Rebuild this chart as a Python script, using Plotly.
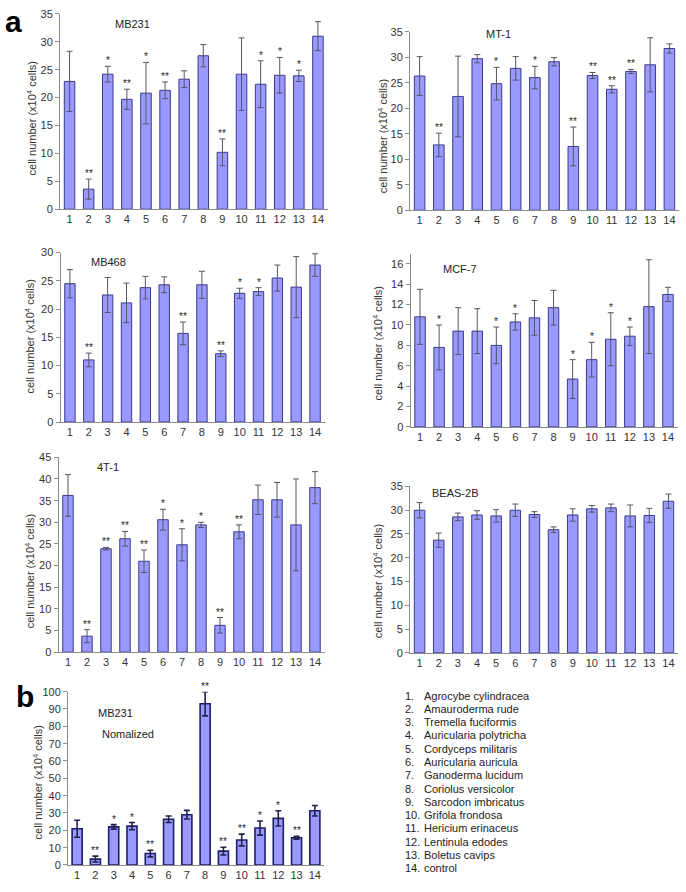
import plotly.graph_objects as go

W, H = 686, 892

categories = list(range(1, 15))
tick_labels = [str(c) for c in categories]

mb231_val = [22.9, 3.6, 24.2, 19.7, 20.8, 21.3, 23.3, 27.5, 10.2, 24.2, 22.4, 24.0, 23.9, 31.0]
mb231_err = [5.4, 1.8, 1.4, 1.8, 5.5, 1.5, 1.5, 2.0, 2.4, 6.5, 4.2, 3.2, 1.0, 2.6]
mb231_sig = ["", "**", "*", "**", "*", "**", "", "", "**", "", "*", "*", "*", ""]

mt1_val = [26.3, 12.8, 22.3, 29.7, 24.8, 27.8, 26.0, 29.1, 12.5, 26.4, 23.7, 27.2, 28.5, 31.7]
mt1_err = [3.8, 2.3, 7.9, 0.8, 3.2, 2.3, 2.2, 0.8, 3.8, 0.6, 0.7, 0.4, 5.3, 0.9]
mt1_sig = ["", "**", "", "", "*", "", "*", "", "**", "**", "**", "**", "", ""]

mb468_val = [24.5, 11.0, 22.5, 21.1, 23.8, 24.3, 15.7, 24.3, 12.1, 22.8, 23.1, 25.5, 23.9, 27.8]
mb468_err = [2.5, 1.2, 3.1, 3.5, 2.0, 1.4, 2.0, 2.4, 0.5, 0.9, 0.7, 2.3, 5.4, 2.0]
mb468_sig = ["", "**", "", "", "", "", "**", "", "**", "*", "*", "", "", ""]

mcf7_val = [10.8, 7.8, 9.4, 9.4, 8.0, 10.3, 10.7, 11.7, 4.7, 6.6, 8.6, 8.9, 11.8, 13.0]
mcf7_err = [2.7, 2.2, 2.3, 2.2, 1.8, 0.8, 1.7, 1.7, 1.9, 1.7, 2.6, 0.9, 4.6, 0.7]
mcf7_sig = ["", "*", "", "", "*", "*", "", "", "*", "*", "*", "*", "", ""]

t41_val = [36.2, 3.7, 23.9, 26.2, 21.0, 30.6, 24.8, 29.4, 6.2, 27.8, 35.2, 35.2, 29.4, 38.0]
t41_err = [4.8, 1.5, 0.3, 1.7, 2.6, 2.4, 3.7, 0.6, 1.8, 1.6, 3.4, 4.0, 10.6, 3.7]
t41_sig = ["", "**", "**", "**", "**", "*", "*", "*", "**", "**", "", "", "", ""]

beas_val = [30.0, 23.7, 28.6, 29.0, 28.8, 30.0, 29.1, 25.9, 29.0, 30.3, 30.5, 28.8, 28.9, 31.9]
beas_err = [1.6, 1.5, 0.8, 0.9, 1.3, 1.3, 0.6, 0.6, 1.3, 0.7, 0.8, 2.3, 1.5, 1.5]
beas_sig = [""] * 14

norm_val = [20.9, 3.4, 22.0, 22.4, 6.6, 26.4, 29.0, 93.0, 8.0, 14.4, 21.3, 26.9, 15.7, 31.3]
norm_err = [4.9, 1.7, 1.3, 2.1, 1.9, 1.9, 2.5, 7.0, 2.2, 3.4, 4.1, 4.4, 0.8, 3.0]
norm_sig = ["", "**", "*", "*", "**", "", "", "**", "**", "**", "*", "*", "**", ""]

species = ["Agrocybe cylindracea", "Amauroderma rude", "Tremella fuciformis",
           "Auricularia polytricha", "Cordyceps militaris", "Auricularia auricula",
           "Ganoderma lucidum", "Coriolus versicolor", "Sarcodon imbricatus",
           "Grifola frondosa", "Hericium erinaceus", "Lentinula edodes",
           "Boletus cavips", "control"]

y_title = "cell number (x10<sup>4</sup> cells)"

# layout geometry (pixels)
panels = [
    dict(val=mb231_val, err=mb231_err, sig=mb231_sig, title="MB231",
         x=(60, 327.5), y=(8, 206), rmax=35, dtick=5, tpos=(132, 18), ytx=32, yty=114),
    dict(val=mt1_val, err=mt1_err, sig=mt1_sig, title="MT-1",
         x=(410, 679), y=(26, 207), rmax=35, dtick=5, tpos=(498, 28), ytx=383, yty=132),
    dict(val=mb468_val, err=mb468_err, sig=mb468_sig, title="MB468",
         x=(60.5, 324.5), y=(250, 421.7), rmax=30, dtick=5, tpos=(108, 259), ytx=30, yty=335),
    dict(val=mcf7_val, err=mcf7_err, sig=mcf7_sig, title="MCF-7",
         x=(410.5, 677.5), y=(251, 426.7), rmax=17, dtick=2, tpos=(460, 267), ytx=378, yty=342),
    dict(val=t41_val, err=t41_err, sig=t41_sig, title="4T-1",
         x=(58.5, 324.5), y=(457.5, 655), rmax=45, dtick=5, tpos=(108, 467), ytx=30, yty=573),
    dict(val=beas_val, err=beas_err, sig=beas_sig, title="BEAS-2B",
         x=(410, 678), y=(487, 655.7), rmax=35, dtick=5, tpos=(455, 494), ytx=378, yty=583),
    dict(val=norm_val, err=norm_err, sig=norm_sig, title="MB231",
         x=(68, 324), y=(695, 870.7), rmax=100, dtick=10, tpos=(116, 717), ytx=38, yty=787),
]

FONT = "Liberation Sans, Arial, sans-serif"
fig = go.Figure()
layout = dict(width=W, height=H, margin=dict(l=0, r=0, t=0, b=0),
              paper_bgcolor="white", plot_bgcolor="white", showlegend=False,
              font=dict(family=FONT, size=11, color="#333333"), bargap=0.45)
annotations = []


def px_x(v):
    return v / W


def px_y(v):
    return 1 - v / H


for i, p in enumerate(panels, start=1):
    xa = "x" if i == 1 else f"x{i}"
    ya = "y" if i == 1 else f"y{i}"
    is_b = (i == 7)
    fig.add_trace(go.Bar(
        x=categories, y=p["val"], xaxis=xa, yaxis=ya, width=0.55,
        marker=dict(color="#9999ff", line=dict(color="#1f1f66" if is_b else "#3a3a8c",
                                                width=1.6 if is_b else 1)),
        error_y=dict(type="data", array=p["err"], visible=True,
                     color="#22224a" if is_b else "#555566",
                     thickness=1.6 if is_b else 1, width=3),
        hoverinfo="skip"))
    x0, x1 = p["x"]
    yt, yb = p["y"]
    layout["xaxis" if i == 1 else f"xaxis{i}"] = dict(
        domain=[x0 / W, x1 / W], anchor=ya, range=[0.5, 14.5],
        tickvals=categories, ticktext=tick_labels, showline=True,
        linecolor="#8c8c8c", linewidth=1, ticks="", showgrid=False,
        zeroline=False, fixedrange=True, tickfont=dict(size=11, color="#333333"))
    layout["yaxis" if i == 1 else f"yaxis{i}"] = dict(
        domain=[1 - yb / H, 1 - yt / H], anchor=xa, range=[0, p["rmax"]],
        dtick=p["dtick"], tick0=0, showline=True, linecolor="#8c8c8c", linewidth=1,
        ticks="outside", ticklen=4, tickcolor="#8c8c8c", showgrid=False,
        zeroline=False, fixedrange=True, tickfont=dict(size=11, color="#333333"))
    # significance marks
    for c, v, e, s in zip(categories, p["val"], p["err"], p["sig"]):
        if s:
            annotations.append(dict(x=c, y=v + e, xref=xa, yref=ya, text=s,
                                    showarrow=False, xanchor="center", yanchor="bottom",
                                    yshift=-2, font=dict(size=10, color="#222222")))
    # panel title
    annotations.append(dict(x=px_x(p["tpos"][0]), y=px_y(p["tpos"][1]), xref="paper",
                            yref="paper", text=p["title"], showarrow=False,
                            xanchor="center", yanchor="middle",
                            font=dict(size=11, color="#222222")))
    # y title
    annotations.append(dict(x=px_x(p["ytx"]), y=px_y(p["yty"]), xref="paper", yref="paper",
                            text=y_title, textangle=-90, showarrow=False,
                            xanchor="center", yanchor="middle",
                            font=dict(size=11, color="#333333")))

annotations.append(dict(x=px_x(100), y=px_y(738), xref="paper", yref="paper",
                        text="Nomalized", showarrow=False, xanchor="left", yanchor="middle",
                        font=dict(size=11, color="#222222")))

# panel letters
annotations.append(dict(x=px_x(14), y=px_y(16), xref="paper", yref="paper", text="<b>a</b>",
                        showarrow=False, xanchor="center", yanchor="middle",
                        font=dict(size=30, color="black")))
annotations.append(dict(x=px_x(25), y=px_y(700), xref="paper", yref="paper", text="<b>b</b>",
                        showarrow=False, xanchor="center", yanchor="middle",
                        font=dict(size=30, color="black")))

# species list
for k, name in enumerate(species):
    yy = px_y(699 + k * 13.46)
    annotations.append(dict(x=px_x(403), y=yy, xref="paper", yref="paper",
                            text=f"{k + 1}.", showarrow=False, xanchor="left",
                            yanchor="middle", font=dict(size=11, color="#222222")))
    annotations.append(dict(x=px_x(422), y=yy, xref="paper", yref="paper",
                            text=name, showarrow=False, xanchor="left",
                            yanchor="middle", font=dict(size=11, color="#222222")))

layout["annotations"] = annotations
fig.update_layout(**layout)
fig.write_html("out.html", config={"displayModeBar": False},
               post_script="document.body.style.margin='0px';document.body.style.overflow='hidden';")
